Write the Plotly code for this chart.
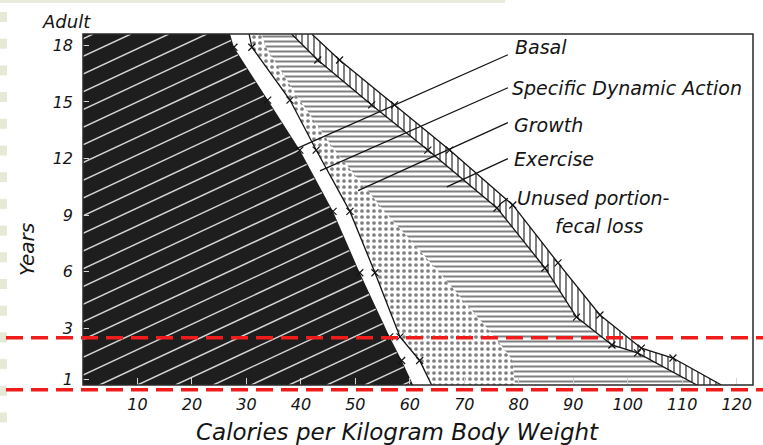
import numpy as np
import plotly.graph_objects as go

# ---- data: calories per kg body weight at the edge of each band, by age ----
ages = [0, 1.3, 2.55, 5.95, 9.2, 12.45, 15.1, 17.9, 18.6]
basal_edge = [60.6, 58.5, 56.3, 50.8, 45.9, 39.8, 33.9, 27.7, 27.0]
sda_edge = [64.0, 61.8, 58.2, 53.6, 49.0, 42.8, 38.0, 31.0, 30.5]
growth_edge = [79.3, 78.9, 75.6, 65.5, 55.4, 46.2, 39.8, 33.6, 32.8]

exercise_ages = [0, 1.7, 2.12, 3.6, 6.2, 9.38, 12.45, 14.84, 17.22, 18.6]
exercise_edge = [112.7, 101.8, 97.1, 90.6, 84.8, 76.0, 63.3, 53.0, 43.1, 38.3]

unused_ages = [0, 1.43, 1.95, 3.71, 6.47, 9.54, 12.45, 14.84, 17.22, 18.6]
unused_edge = [117.2, 108.3, 102.5, 94.9, 87.2, 78.9, 67.3, 57.2, 47.1, 42.0]

x_ticks = [10, 20, 30, 40, 50, 60, 70, 80, 90, 100, 110, 120]
y_tick_pos = [0.3, 3, 6, 9, 12, 15, 18]
y_tick_text = ["1", "3", "6", "9", "12", "15", "18"]

# label text, label anchor (cal, yr) and the point each leader line reaches
labels = ["Basal", "Specific Dynamic Action", "Growth", "Exercise", "Unused portion-"]
label_x = [78.9, 78.3, 78.7, 78.7, 79.3]
label_y = [17.9, 15.75, 13.8, 12.0, 9.9]
leader_start = [(78.0, 17.5), (78.0, 15.75), (78.0, 13.9), (78.0, 12.0), (78.0, 9.9)]
leader_end = [(39.0, 12.5), (43.5, 11.35), (50.5, 10.3), (66.8, 10.5), (76.4, 9.55)]

highlight_years = [2.5, -0.25]

X_MAX, Y_MAX = 123, 18.6
L, R, T, B, W, H = 83, 10, 34, 60, 763, 445
PW, PH = W - L - R, H - T - B

font_fam = "DejaVu Sans"
ink = "#141414"

fig = go.Figure()

# Basal: solid dark band
fig.add_trace(go.Scatter(
    x=[0] + basal_edge + [0], y=[0] + ages + [Y_MAX],
    fill="toself", fillcolor="#1e1e1e", line=dict(width=0), mode="lines",
    hoverinfo="skip", showlegend=False))

# light diagonal hatching inside the basal band
k = 0.467 * (PW / X_MAX) / (PH / Y_MAX)
spacing = 17.7 / (PH / Y_MAX)
hx, hy = [], []
xs = np.linspace(0, 65, 3000)
for c in np.arange(Y_MAX - 0.25, -k * 65, -spacing):
    ys = c + k * xs
    edge = np.interp(ys, ages, basal_edge)
    inside = (ys >= 0) & (ys <= Y_MAX) & (xs <= edge - 0.15)
    idx = np.nonzero(inside)[0]
    if len(idx) > 1:
        hx += [xs[idx[0]], xs[idx[-1]], None]
        hy += [ys[idx[0]], ys[idx[-1]], None]
fig.add_trace(go.Scatter(x=hx, y=hy, mode="lines",
                         line=dict(color="#d4d4d4", width=1.5),
                         hoverinfo="skip", showlegend=False))

# Growth: stippled band
fig.add_trace(go.Scatter(
    x=sda_edge + growth_edge[::-1], y=ages + ages[::-1],
    fill="toself", fillcolor="white", mode="lines", line=dict(width=0),
    fillpattern=dict(shape=".", fgcolor="black", bgcolor="white", size=6, solidity=0.3),
    hoverinfo="skip", showlegend=False))

# Exercise: horizontal ruling
fig.add_trace(go.Scatter(
    x=growth_edge + exercise_edge[::-1], y=ages + exercise_ages[::-1],
    fill="toself", fillcolor="white", mode="lines", line=dict(width=0),
    fillpattern=dict(shape="-", fgcolor="black", bgcolor="white", size=5, solidity=0.4),
    hoverinfo="skip", showlegend=False))

# Unused portion / fecal loss: vertical ruling
fig.add_trace(go.Scatter(
    x=exercise_edge + unused_edge[::-1], y=exercise_ages + unused_ages[::-1],
    fill="toself", fillcolor="white", mode="lines", line=dict(width=0),
    fillpattern=dict(shape="|", fgcolor="black", bgcolor="white", size=6, solidity=0.33),
    hoverinfo="skip", showlegend=False))

# boundary lines with plotted points
for bx, by in [(sda_edge, ages), (exercise_edge, exercise_ages), (unused_edge, unused_ages)]:
    fig.add_trace(go.Scatter(x=bx, y=by, mode="lines", line=dict(color=ink, width=1.3),
                             hoverinfo="skip", showlegend=False))
    fig.add_trace(go.Scatter(x=bx[1:-1], y=by[1:-1], mode="markers",
                             marker=dict(symbol="x-thin", size=7, line=dict(color=ink, width=1.2)),
                             hoverinfo="skip", showlegend=False))
fig.add_trace(go.Scatter(x=basal_edge[1:-1], y=ages[1:-1], mode="markers",
                         marker=dict(symbol="x-thin", size=7, line=dict(color=ink, width=1.2)),
                         hoverinfo="skip", showlegend=False))

# leader lines
lx, ly = [], []
for (x0, y0), (x1, y1) in zip(leader_start, leader_end):
    lx += [x0, x1, None]
    ly += [y0, y1, None]
fig.add_trace(go.Scatter(x=lx, y=ly, mode="lines", line=dict(color=ink, width=1.3),
                         hoverinfo="skip", showlegend=False))

lab_font = dict(family=font_fam, size=19, color=ink, style="italic")
ann = []
for t, x, y in zip(labels, label_x, label_y):
    ann.append(dict(x=x, y=y, text=t, showarrow=False, xanchor="left", yanchor="middle",
                    font=lab_font))
ann.append(dict(x=86.2, y=8.45, text="fecal loss", showarrow=False, xanchor="left",
                yanchor="middle", font=lab_font))


def px_x(px):
    return (px - L) / PW


def px_y(py):
    return (H - B - py) / PH


ann.append(dict(xref="paper", yref="paper", x=px_x(397), y=px_y(432),
                xanchor="center", yanchor="middle",
                text="Calories per Kilogram Body Weight", showarrow=False,
                font=dict(family=font_fam, size=23, color=ink, style="italic")))
ann.append(dict(xref="paper", yref="paper", x=px_x(27), y=px_y(250), text="Years",
                xanchor="center", yanchor="middle", textangle=-90, showarrow=False,
                font=dict(family=font_fam, size=20, color=ink, style="italic")))
ann.append(dict(xref="paper", yref="paper", x=px_x(66), y=px_y(22), text="Adult",
                xanchor="center", yanchor="middle", showarrow=False,
                font=dict(family=font_fam, size=18, color=ink, style="italic")))

shapes = []
# page edge tint
shapes.append(dict(type="rect", xref="paper", yref="paper", x0=px_x(0), x1=px_x(505),
                   y0=px_y(3), y1=px_y(0), fillcolor="#e9ecdb", line=dict(width=0), layer="below"))
for i in range(16):
    top = 12 + i * 26.7
    shapes.append(dict(type="rect", xref="paper", yref="paper", x0=px_x(0), x1=px_x(7),
                       y0=px_y(top + 10), y1=px_y(top), fillcolor="#e6e9d5",
                       line=dict(width=0), layer="below"))
# frame
shapes.append(dict(type="rect", xref="paper", yref="paper", x0=0, x1=1, y0=0, y1=1,
                   line=dict(color="#2a2a2a", width=1.5), layer="above"))
# highlighted age band
for yr in highlight_years:
    shapes.append(dict(type="line", xref="paper", yref="paper",
                       x0=px_x(6), x1=px_x(W), y0=yr / Y_MAX, y1=yr / Y_MAX,
                       line=dict(color="#f01c1c", width=3.5, dash="17px,8px"), layer="above"))

tick_font = dict(family=font_fam, size=16, color=ink, style="italic")
fig.update_layout(
    width=W, height=H, autosize=False,
    margin=dict(l=L, r=R, t=T, b=B),
    paper_bgcolor="white", plot_bgcolor="white",
    xaxis=dict(range=[0, X_MAX], tickvals=x_ticks, ticks="inside", ticklen=7,
               tickcolor="#d4d4d4", tickwidth=1.3, showgrid=False, zeroline=False,
               showline=False, tickfont=tick_font, ticklabelstandoff=8),
    yaxis=dict(range=[0, Y_MAX], tickvals=y_tick_pos, ticktext=y_tick_text,
               ticks="inside", ticklen=6, tickcolor="#d4d4d4", tickwidth=1.3,
               showgrid=False, zeroline=False, showline=False, tickfont=tick_font,
               ticklabelstandoff=9),
    annotations=ann, shapes=shapes,
)

fig.write_html("out.html")
